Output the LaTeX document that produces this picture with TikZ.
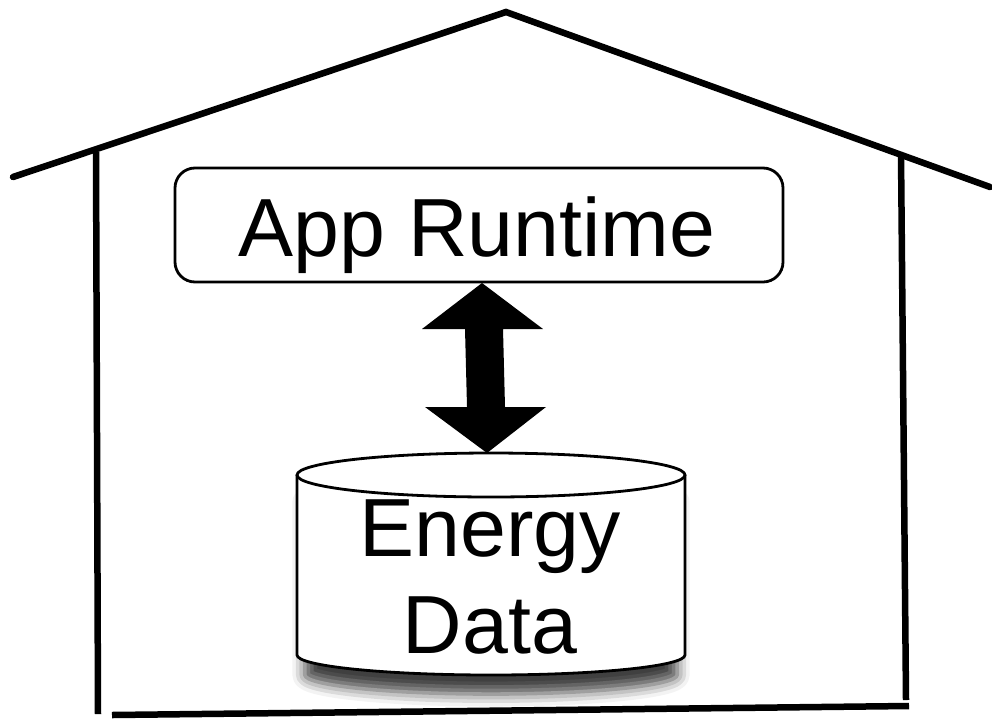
\documentclass[tikz,border=0pt]{standalone}
\usepackage{fontspec}
\setmainfont{Liberation Sans}
\usetikzlibrary{shadows.blur}
\begin{document}
\begin{tikzpicture}[x=1pt,y=-1pt,
  wall/.style={line width=6.5pt,line cap=round,line join=miter},
  bigtext/.style={font=\fontsize{82.5}{96}\selectfont,inner sep=0pt,anchor=base},
  boxline/.style={line width=2.8pt}]
\useasboundingbox (0,0) rectangle (992,718);
% house
\coordinate (roofL) at (13,177);
\coordinate (peak) at (506,12);
\coordinate (roofR) at (990,187);
\draw[wall] (roofL) -- (peak) -- (roofR);
\coordinate (wallLt) at (96,152);
\coordinate (wallLb) at (98,714);
\coordinate (wallRt) at (901,154);
\coordinate (wallRb) at (906,700);
\coordinate (floorL) at (112,715);
\coordinate (floorR) at (909,706);
\draw[wall,line cap=butt] (wallLt) -- (wallLb);
\draw[wall,line cap=butt] (wallRt) -- (wallRb);
\draw[wall,line cap=butt] (floorL) -- (floorR);
% app runtime box
\draw[boxline,rounded corners=20pt] (175,168) rectangle (783,282);
\node[bigtext] (app) at (477,256) {App Runtime};
\coordinate (appS) at (482,283);
% cylinder
\coordinate (cylTop) at (487,453);
\path[blur shadow={shadow xshift=0pt,shadow yshift=-24pt,shadow scale=0.96,shadow blur radius=13pt,shadow opacity=75}]
  (297,475) -- (297,655) arc[start angle=180,end angle=360,x radius=194,y radius=-20] -- (685,475) arc[start angle=0,end angle=180,x radius=194,y radius=22] -- cycle;
\fill[white] (297,475) -- (297,655) arc[start angle=180,end angle=360,x radius=194,y radius=-20] -- (685,475) arc[start angle=0,end angle=180,x radius=194,y radius=22] -- cycle;
\draw[boxline] (297,475) -- (297,655) arc[start angle=180,end angle=360,x radius=194,y radius=-20] -- (685,475);
\draw[boxline] (491,475) ellipse[x radius=194,y radius=22];
\node[bigtext] (energy) at (490,556) {Energy};
\node[bigtext] (data) at (490,653) {Data};
% fat double arrow
\fill[black] (appS) -- (543,329) -- (503,329) -- (505,407) -- (546,407) -- (cylTop)
  -- (425,407) -- (467,407) -- (465,329) -- (422,329) -- cycle;
\end{tikzpicture}
\end{document}
